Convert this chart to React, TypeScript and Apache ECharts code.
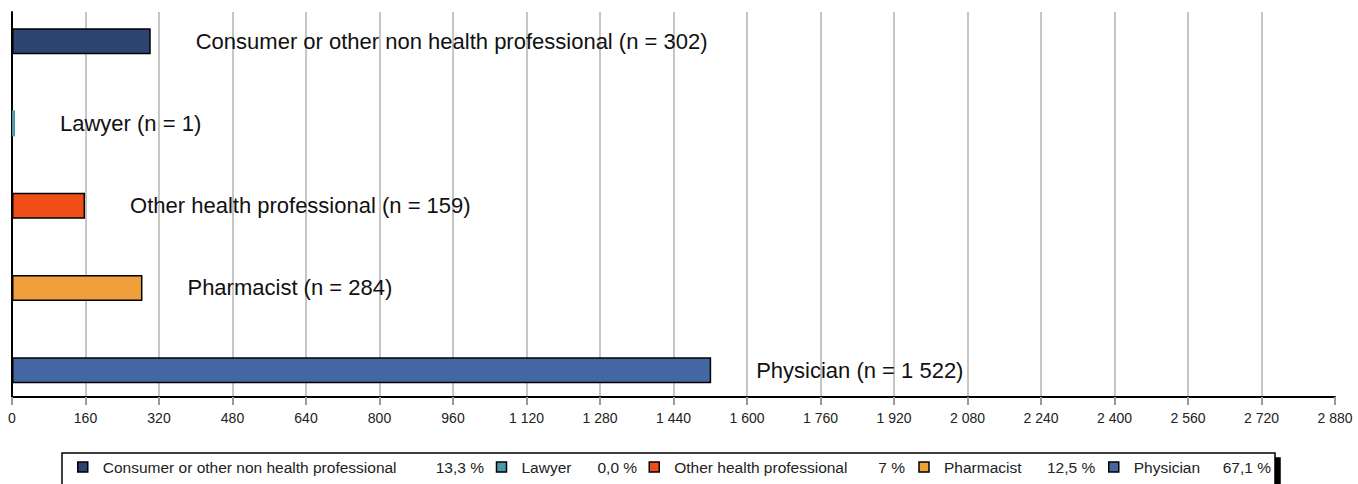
import React, { useEffect, useRef } from "react";
import * as echarts from "echarts";

const categories = [
  "Consumer or other non health professional",
  "Lawyer",
  "Other health professional",
  "Pharmacist",
  "Physician",
];
const counts = [302, 1, 159, 284, 1522];
const countLabels = ["302", "1", "159", "284", "1 522"];
const shares = ["13,3 %", "0,0 %", "7 %", "12,5 %", "67,1 %"];
const colors = ["#2D4370", "#4A98AA", "#F04E18", "#F0A03A", "#4466A2"];
const xTicks = { min: 0, max: 2880, interval: 160 };

// legend layout widths (name column, percentage column)
const legendNameW = [333, 76, 204, 103, 89];
const legendPctW = [60, 51, 40, 61, 48];

const fmtThousands = (v: number) =>
  String(v).replace(/\B(?=(\d{3})+(?!\d))/g, " ");

export default function App() {
  const ref = useRef<HTMLDivElement>(null);
  useEffect(() => {
    if (!ref.current) return;
    const chart = echarts.init(ref.current, undefined, { renderer: "svg" });
    const font = "'Liberation Sans', Arial, Helvetica, sans-serif";
    const series = categories.map((name, i) => ({
      name,
      type: "bar",
      stack: "all",
      xAxisIndex: 0,
      yAxisIndex: 0,
      barWidth: 26,
      barMinHeight: i === 1 ? 3 : 0,
      data: categories.map((_, j) => (j === i ? counts[i] : null)),
      itemStyle: {
        color: colors[i],
        borderColor: i === 1 ? colors[i] : "#000",
        borderWidth: i === 1 ? 0 : 1.5,
      },
      label: {
        show: true,
        position: "right",
        distance: 45,
        fontFamily: font,
        fontSize: 22,
        color: "#111",
        formatter: () => `${name} (n = ${countLabels[i]})`,
      },
    }));
    const rich: any = {
      s: { width: 10, fontSize: 15.5, fontFamily: font },
    };
    categories.forEach((_, i) => {
      rich["n" + i] = {
        width: legendNameW[i],
        fontSize: 15.5,
        fontFamily: font,
        color: "#222",
        lineHeight: 20,
      };
      rich["p" + i] = {
        width: legendPctW[i],
        fontSize: 15.5,
        fontFamily: font,
        color: "#222",
        lineHeight: 20,
      };
    });
    chart.setOption({
      animation: false,
      backgroundColor: "#fff",
      grid: [
        { left: 12, right: 23, top: -2.4, height: 413.75, containLabel: false },
        { left: 12, right: 23, top: 12, bottom: 87, containLabel: false },
      ],
      xAxis: [
        {
          gridIndex: 0,
          type: "value",
          min: xTicks.min,
          max: xTicks.max,
          interval: xTicks.interval,
          show: false,
        },
        {
          gridIndex: 1,
          type: "value",
          min: xTicks.min,
          max: xTicks.max,
          interval: xTicks.interval,
          axisLine: { show: true, lineStyle: { color: "#000", width: 2 } },
          axisTick: {
            show: true,
            length: 8,
            lineStyle: { color: "#9a9a9a", width: 2 },
          },
          splitLine: {
            show: true,
            showMinLine: false,
            showMaxLine: false,
            lineStyle: { color: "#c6c6c6", width: 2 },
          },
          axisLabel: {
            margin: 14,
            fontFamily: font,
            fontSize: 14,
            color: "#222",
            formatter: (v: number) => fmtThousands(v),
          },
        },
      ],
      yAxis: [
        {
          gridIndex: 0,
          type: "category",
          inverse: true,
          data: categories,
          show: false,
        },
        {
          gridIndex: 1,
          type: "value",
          min: 0,
          max: 1,
          axisLine: { show: true, lineStyle: { color: "#000", width: 2 } },
          axisTick: { show: false },
          axisLabel: { show: false },
          splitLine: { show: false },
        },
      ],
      legend: {
        left: 62,
        top: 453,
        orient: "horizontal",
        itemGap: 0,
        itemWidth: 10,
        itemHeight: 10,
        icon: "rect",
        padding: [6, 4, 20, 15],
        backgroundColor: "#fff",
        borderColor: "#000",
        borderWidth: 1.5,
        shadowColor: "#000",
        shadowBlur: 0,
        shadowOffsetX: 5,
        shadowOffsetY: 5,
        selectedMode: false,
        itemStyle: { borderColor: "#000", borderWidth: 1.5 },
        textStyle: { fontFamily: font, fontSize: 15.5, color: "#222", rich },
        formatter: (name: string) => {
          const i = categories.indexOf(name);
          return `{s| }{n${i}|${name}}{p${i}|${shares[i]}}`;
        },
        data: categories,
      },
      series,
    });
    return () => chart.dispose();
  }, []);
  return (
    <div
      ref={ref}
      style={{ position: "absolute", left: 0, top: 0, width: 1358, height: 484 }}
    />
  );
}
